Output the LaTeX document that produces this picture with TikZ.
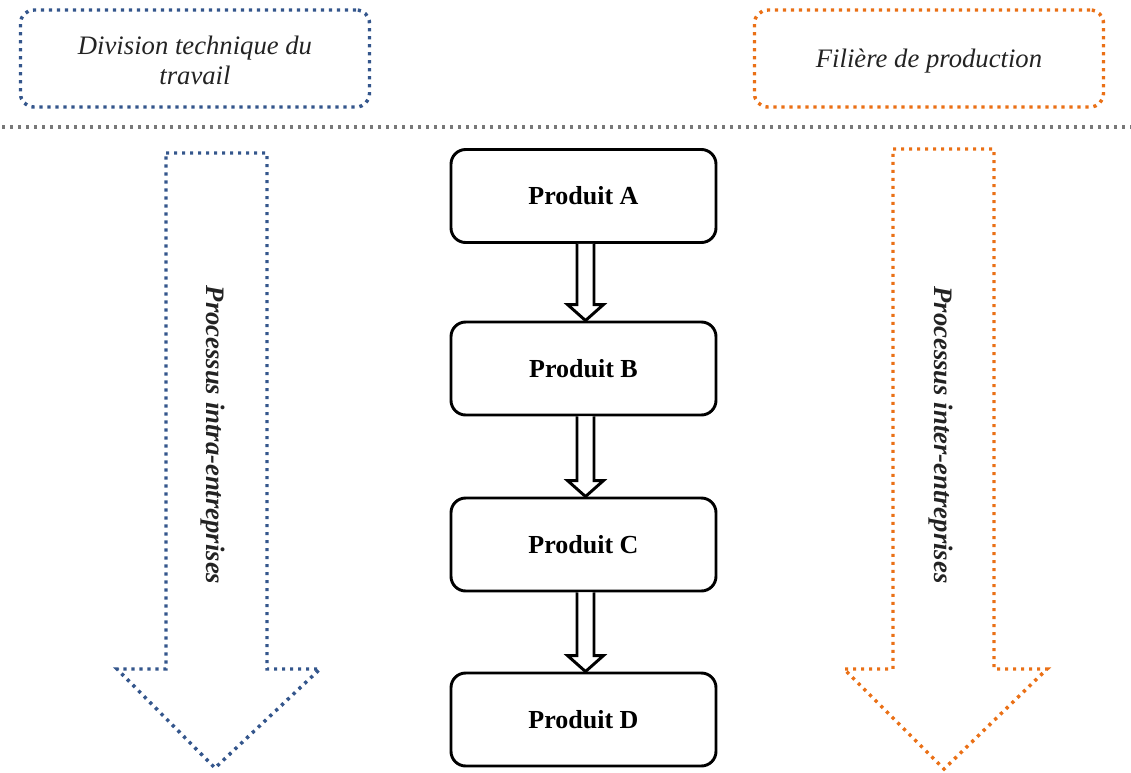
\documentclass[tikz,border=0pt]{standalone}
\usepackage{fontspec}
\setmainfont{Liberation Serif}
\usetikzlibrary{calc}
\definecolor{dblue}{RGB}{52,86,140}
\definecolor{dorange}{RGB}{234,112,22}
\definecolor{dgray}{RGB}{120,120,120}
\definecolor{txt}{RGB}{35,35,35}
\begin{document}
\begin{tikzpicture}[x=0.75pt,y=-0.75pt,
  dots/.style={line width=2.6pt,dash pattern=on 2.4pt off 3.6pt},
  topbox/.style={draw,dots,rounded corners=10pt,minimum width=349*0.75pt,minimum height=97*0.75pt},
  toptext/.style={font=\fontsize{20}{22.5}\selectfont\itshape,text=txt,align=center,inner sep=0pt},
  prod/.style={draw,line width=2.2pt,rounded corners=11pt,minimum width=265*0.75pt,minimum height=93*0.75pt,
    font=\fontsize{19.5}{22}\selectfont\bfseries},
  blockarr/.style={draw,line width=2.2pt,fill=white,line join=miter},
  side/.style={font=\fontsize{20}{24}\selectfont\bfseries\itshape,text=txt,rotate=-90}]
\useasboundingbox (0,0) rectangle (1131,772);

% top boxes
\node[topbox,draw=dblue] (div) at (195,58.5) {};
\node[toptext] (divt) at (195,60) {Division technique du\\travail};
\node[topbox,draw=dorange] (fil) at (929,58.5) {};
\node[toptext] (filt) at (929,61) {Filière de production};

% separator
\coordinate (sepL) at (2,127);
\coordinate (sepR) at (1131,127);
\draw[dots,draw=dgray] (sepL) -- (sepR);

% big arrows
\draw[dots,draw=dblue] (166,153) -- (267,153) -- (267,669) -- (320,669) -- (215,768) -- (117,669) -- (166,669) -- cycle;
\draw[dots,draw=dorange] (893,149) -- (994,149) -- (994,669) -- (1047,669) -- (944,769) -- (844,669) -- (893,669) -- cycle;

\node[side] (intra) at (213,435) {Processus intra-entreprises};
\node[side] (inter) at (941,435) {Processus inter-entreprises};

% products
\node[prod] (A) at (583.5,196) {Produit A};
\node[prod] (B) at (583.5,368.5) {Produit B};
\node[prod] (C) at (583.5,544.5) {Produit C};
\node[prod] (D) at (583.5,719.5) {Produit D};

% block arrows
\foreach \s/\t in {A/B,B/C,C/D}{
  \draw[blockarr] ($(\s.south)+(-6.5,0)$) -- ($(\t.north)+(-6.5,-16)$) -- ($(\t.north)+(-16,-16)$)
    -- ($(\t.north)+(2,0)$) -- ($(\t.north)+(20,-16)$) -- ($(\t.north)+(10.5,-16)$)
    -- ($(\s.south)+(10.5,0)$);
}
\end{tikzpicture}
\end{document}
